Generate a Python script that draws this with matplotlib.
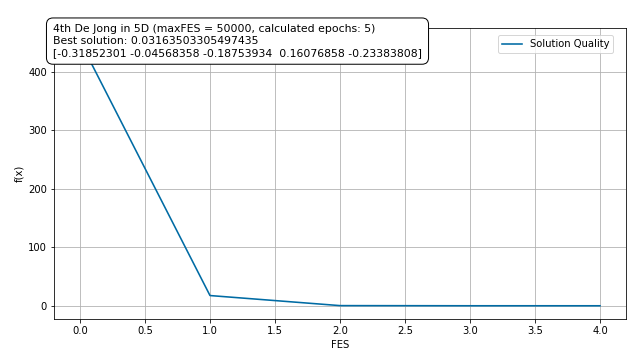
import matplotlib
matplotlib.use("Agg")
import matplotlib.pyplot as plt

fes = [0, 1, 2, 3, 4]
quality = [452.0, 17.5, 0.3, 0.05, 0.0316]
title_text = ("4th De Jong in 5D (maxFES = 50000, calculated epochs: 5)\n"
              "Best solution: 0.03163503305497435\n"
              "[-0.31852301 -0.04568358 -0.18753934  0.16076858 -0.23383808]")

dpi = 72
fig = plt.figure(figsize=(640 / dpi, 356 / dpi), dpi=dpi)
ax = fig.add_axes([54 / 640, 1 - 319 / 356, (626 - 54) / 640, (319 - 28) / 356])
ax.plot(fes, quality, color="#006BA4", linewidth=1.6, label="Solution Quality")
ax.grid(True)
ax.set_xlabel("FES")
ax.set_ylabel("f(x)")
ax.legend(loc="upper right", bbox_to_anchor=(1 - 8 / 572, 1 - 2 / 291))
fig.text(53 / 640, 1 - 24.5 / 356, title_text, ha="left", va="top", fontsize=10.9,
         linespacing=1.2,
         bbox=dict(boxstyle="round,pad=0.6", facecolor="white", edgecolor="black"))
fig.savefig("out.png", dpi=dpi)
